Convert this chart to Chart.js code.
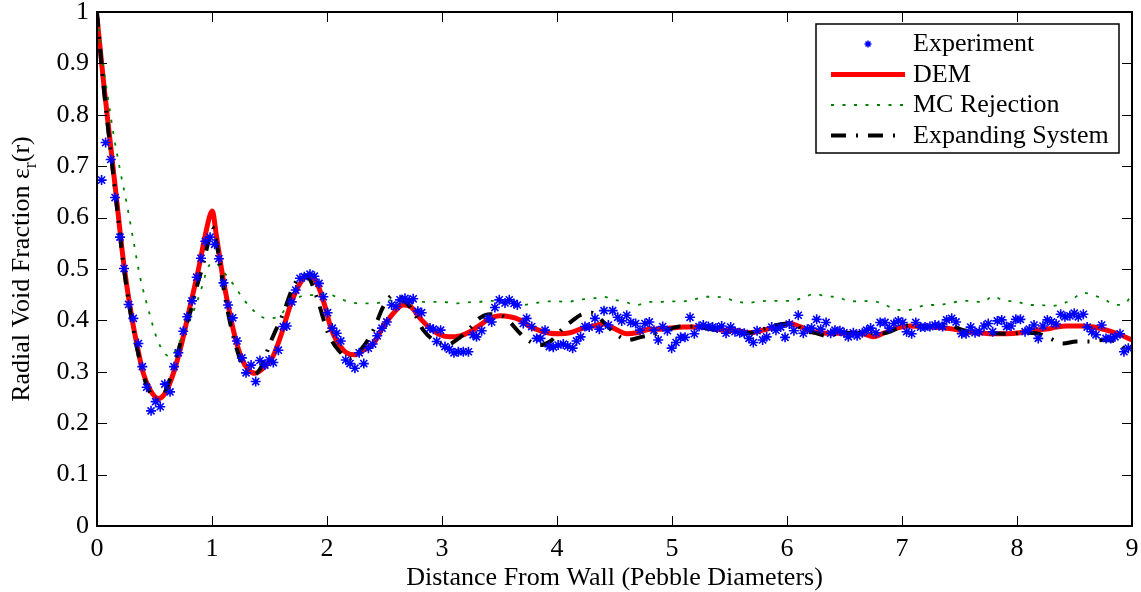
<!DOCTYPE html>
<html>
<head>
<meta charset="utf-8">
<title>Radial Void Fraction</title>
<script src="https://cdn.jsdelivr.net/npm/chart.js@4.4.1/dist/chart.umd.min.js"></script>
<style>
  html, body { margin: 0; padding: 0; background: #fff; }
  #wrap { width: 1141px; height: 592px; }
</style>
</head>
<body>
<div id="wrap"><canvas id="voidChart" width="1141" height="592"></canvas></div>
<script>
// values (x in pebble diameters, y = void fraction)
const expX = [0.04, 0.075, 0.12, 0.157, 0.2, 0.235, 0.275, 0.316, 0.36, 0.394, 0.432, 0.47, 0.51, 0.55, 0.59, 0.635, 0.67, 0.707, 0.75, 0.785,
  0.826, 0.867, 0.904, 0.942, 0.983, 1.023, 1.06, 1.1, 1.14, 1.18, 1.217, 1.26, 1.296, 1.34, 1.38, 1.417, 1.46, 1.496, 1.533, 1.577,
  1.62, 1.65, 1.693, 1.728, 1.765, 1.803, 1.852, 1.89, 1.93, 1.968, 2.005, 2.046, 2.084, 2.12, 2.163, 2.2, 2.243, 2.28, 2.32, 2.36,
  2.397, 2.437, 2.478, 2.52, 2.562, 2.6, 2.635, 2.678, 2.716, 2.75, 2.79, 2.823, 2.896, 2.925, 2.954, 2.988, 3.026, 3.064, 3.104, 3.142,
  3.185, 3.23, 3.27, 3.3, 3.345, 3.403, 3.432, 3.46, 3.498, 3.548, 3.585, 3.626, 3.655, 3.707, 3.736, 3.78, 3.823, 3.857, 3.896, 3.933,
  3.968, 4.01, 4.055, 4.093, 4.136, 4.17, 4.205, 4.243, 4.28, 4.33, 4.368, 4.409, 4.447, 4.484, 4.528, 4.563, 4.606, 4.641, 4.684, 4.722,
  4.765, 4.803, 4.843, 4.88, 4.919, 4.96, 4.997, 5.035, 5.075, 5.113, 5.157, 5.194, 5.235, 5.272, 5.316, 5.353, 5.393, 5.432, 5.47, 5.51,
  5.548, 5.59, 5.628, 5.67, 5.707, 5.74, 5.788, 5.823, 5.867, 5.904, 5.945, 5.983, 6.02, 6.06, 6.098, 6.142, 6.177, 6.214, 6.258, 6.293,
  6.34, 6.38, 6.417, 6.46, 6.496, 6.533, 6.577, 6.61, 6.655, 6.693, 6.727, 6.774, 6.81, 6.852, 6.89, 6.93, 6.968, 7.006, 7.04, 7.084,
  7.12, 7.162, 7.2, 7.243, 7.287, 7.32, 7.353, 7.388, 7.432, 7.47, 7.52, 7.557, 7.597, 7.635, 7.672, 7.713, 7.75, 7.788, 7.829, 7.867,
  7.91, 7.948, 7.99, 8.03, 8.07, 8.107, 8.148, 8.185, 8.226, 8.264, 8.3, 8.34, 8.38, 8.417, 8.46, 8.498, 8.533, 8.577, 8.61, 8.65,
  8.687, 8.736, 8.774, 8.815, 8.852, 8.896, 8.93, 8.968];
const expY = [0.673, 0.746, 0.713, 0.639, 0.562, 0.501, 0.431, 0.404, 0.355, 0.31, 0.27, 0.224, 0.242, 0.232, 0.276, 0.261, 0.31, 0.337, 0.379, 0.407,
  0.438, 0.484, 0.521, 0.554, 0.562, 0.548, 0.52, 0.473, 0.43, 0.405, 0.36, 0.327, 0.298, 0.313, 0.281, 0.322, 0.313, 0.323, 0.318, 0.342,
  0.388, 0.389, 0.436, 0.459, 0.482, 0.485, 0.49, 0.486, 0.472, 0.446, 0.415, 0.385, 0.375, 0.36, 0.323, 0.316, 0.307, 0.337, 0.316, 0.346,
  0.354, 0.37, 0.385, 0.397, 0.43, 0.427, 0.44, 0.443, 0.438, 0.442, 0.418, 0.415, 0.385, 0.383, 0.359, 0.381, 0.349, 0.344, 0.337, 0.339,
  0.339, 0.339, 0.372, 0.368, 0.38, 0.404, 0.397, 0.425, 0.44, 0.434, 0.44, 0.433, 0.43, 0.394, 0.404, 0.388, 0.365, 0.365, 0.381, 0.349,
  0.348, 0.352, 0.354, 0.35, 0.346, 0.36, 0.368, 0.388, 0.387, 0.404, 0.383, 0.419, 0.391, 0.419, 0.406, 0.399, 0.41, 0.396, 0.394, 0.381,
  0.394, 0.397, 0.381, 0.362, 0.388, 0.38, 0.346, 0.357, 0.367, 0.367, 0.406, 0.374, 0.388, 0.391, 0.388, 0.387, 0.385, 0.389, 0.375, 0.387,
  0.378, 0.376, 0.375, 0.365, 0.357, 0.38, 0.362, 0.368, 0.387, 0.381, 0.387, 0.367, 0.393, 0.38, 0.41, 0.375, 0.383, 0.385, 0.402, 0.383,
  0.396, 0.375, 0.381, 0.38, 0.376, 0.368, 0.376, 0.37, 0.376, 0.381, 0.385, 0.376, 0.396, 0.396, 0.385, 0.394, 0.399, 0.396, 0.378, 0.374,
  0.396, 0.387, 0.387, 0.388, 0.391, 0.39, 0.388, 0.401, 0.404, 0.397, 0.374, 0.374, 0.387, 0.376, 0.378, 0.389, 0.394, 0.378, 0.399, 0.401,
  0.388, 0.389, 0.402, 0.402, 0.378, 0.383, 0.391, 0.365, 0.389, 0.401, 0.397, 0.393, 0.412, 0.407, 0.409, 0.414, 0.407, 0.412, 0.387, 0.378,
  0.372, 0.391, 0.365, 0.365, 0.368, 0.374, 0.339, 0.346];

const demX = [0, 0.055, 0.113, 0.171, 0.229, 0.287, 0.345, 0.403, 0.461, 0.533, 0.591, 0.664, 0.736, 0.809, 0.881, 0.939, 0.983, 1.003, 1.035, 1.084,
  1.142, 1.2, 1.258, 1.316, 1.374, 1.46, 1.53, 1.606, 1.678, 1.75, 1.823, 1.866, 1.925, 1.983, 2.04, 2.1, 2.17, 2.243, 2.316, 2.403,
  2.49, 2.577, 2.664, 2.72, 2.81, 2.896, 2.983, 3.07, 3.157, 3.243, 3.33, 3.417, 3.504, 3.59, 3.678, 3.765, 3.852, 3.939, 4.026, 4.113,
  4.229, 4.316, 4.403, 4.49, 4.606, 4.693, 4.809, 4.896, 4.983, 5.099, 5.215, 5.33, 5.446, 5.562, 5.678, 5.794, 5.91, 6.026, 6.113, 6.229,
  6.345, 6.46, 6.577, 6.664, 6.75, 6.837, 6.953, 7.07, 7.185, 7.33, 7.446, 7.562, 7.678, 7.794, 7.91, 8.026, 8.142, 8.258, 8.345, 8.43,
  8.55, 8.667, 8.78, 8.896, 9];
const demY = [0.99, 0.868, 0.751, 0.634, 0.517, 0.427, 0.355, 0.297, 0.265, 0.248, 0.258, 0.297, 0.355, 0.427, 0.498, 0.563, 0.605, 0.613, 0.57, 0.498,
  0.427, 0.368, 0.326, 0.304, 0.297, 0.31, 0.33, 0.375, 0.427, 0.466, 0.485, 0.485, 0.466, 0.427, 0.381, 0.355, 0.337, 0.333, 0.342, 0.355,
  0.388, 0.414, 0.43, 0.428, 0.404, 0.385, 0.372, 0.368, 0.37, 0.378, 0.391, 0.404, 0.409, 0.407, 0.401, 0.388, 0.38, 0.375, 0.374, 0.376,
  0.385, 0.389, 0.393, 0.385, 0.374, 0.376, 0.383, 0.383, 0.385, 0.387, 0.387, 0.385, 0.381, 0.38, 0.376, 0.381, 0.388, 0.394, 0.388, 0.378,
  0.375, 0.375, 0.375, 0.374, 0.368, 0.375, 0.385, 0.389, 0.388, 0.386, 0.383, 0.378, 0.376, 0.374, 0.374, 0.376, 0.381, 0.383, 0.387, 0.389,
  0.389, 0.387, 0.381, 0.372, 0.362];

const mcX = [0, 0.055, 0.098, 0.142, 0.2, 0.258, 0.316, 0.374, 0.446, 0.519, 0.58, 0.635, 0.68, 0.722, 0.809, 0.896, 0.96, 0.997, 1.07, 1.142,
  1.2, 1.258, 1.316, 1.388, 1.475, 1.577, 1.664, 1.722, 1.809, 1.91, 1.997, 2.1, 2.2, 2.287, 2.4, 2.49, 2.59, 2.69, 2.81, 2.925,
  3.01, 3.113, 3.215, 3.315, 3.417, 3.5, 3.6, 3.7, 3.8, 3.9, 4.0, 4.09, 4.19, 4.316, 4.403, 4.5, 4.59, 4.693, 4.8, 4.9,
  4.98, 5.08, 5.186, 5.287, 5.39, 5.47, 5.56, 5.66, 5.75, 5.85, 5.95, 6.05, 6.14, 6.243, 6.34, 6.44, 6.54, 6.63, 6.73, 6.837,
  6.925, 7.026, 7.11, 7.21, 7.31, 7.4, 7.5, 7.6, 7.7, 7.79, 7.89, 7.99, 8.1, 8.2, 8.3, 8.4, 8.475, 8.577, 8.66, 8.77,
  8.85, 8.94, 9];
const mcY = [0.99, 0.894, 0.829, 0.764, 0.693, 0.628, 0.556, 0.485, 0.422, 0.366, 0.338, 0.33, 0.34, 0.36, 0.401, 0.453, 0.5, 0.512, 0.505, 0.482,
  0.466, 0.446, 0.43, 0.414, 0.404, 0.407, 0.43, 0.44, 0.449, 0.449, 0.453, 0.443, 0.436, 0.433, 0.433, 0.436, 0.44, 0.433, 0.436, 0.436,
  0.436, 0.433, 0.435, 0.436, 0.438, 0.437, 0.433, 0.43, 0.433, 0.437, 0.437, 0.436, 0.44, 0.443, 0.446, 0.44, 0.436, 0.43, 0.436, 0.436,
  0.437, 0.437, 0.44, 0.446, 0.446, 0.443, 0.437, 0.434, 0.437, 0.438, 0.438, 0.438, 0.445, 0.451, 0.447, 0.445, 0.438, 0.437, 0.438, 0.432,
  0.423, 0.419, 0.423, 0.43, 0.43, 0.433, 0.437, 0.438, 0.435, 0.447, 0.438, 0.437, 0.43, 0.43, 0.428, 0.433, 0.44, 0.454, 0.449, 0.44,
  0.43, 0.433, 0.451];

const expandX = [0, 0.055, 0.113, 0.171, 0.229, 0.287, 0.345, 0.403, 0.461, 0.519, 0.58, 0.64, 0.693, 0.75, 0.809, 0.867, 0.925, 0.97, 1.003, 1.03,
  1.055, 1.113, 1.186, 1.272, 1.36, 1.43, 1.504, 1.62, 1.707, 1.794, 1.85, 1.91, 2.01, 2.1, 2.2, 2.316, 2.403, 2.49, 2.577, 2.664,
  2.75, 2.838, 2.925, 3.04, 3.127, 3.243, 3.33, 3.417, 3.533, 3.59, 3.678, 3.765, 3.852, 3.939, 4.055, 4.142, 4.2, 4.3, 4.403, 4.519,
  4.62, 4.736, 4.88, 4.953, 5.07, 5.186, 5.33, 5.475, 5.62, 5.736, 5.794, 5.91, 6.055, 6.142, 6.258, 6.345, 6.46, 6.693, 6.837, 7.0,
  7.1, 7.215, 7.33, 7.417, 7.533, 7.65, 7.765, 7.94, 8.055, 8.17, 8.287, 8.4, 8.516, 8.63, 8.746, 8.86, 8.95, 9];
const expandY = [1.0, 0.86, 0.74, 0.625, 0.51, 0.42, 0.35, 0.293, 0.26, 0.245, 0.255, 0.29, 0.33, 0.375, 0.414, 0.465, 0.511, 0.555, 0.582, 0.56,
  0.53, 0.446, 0.368, 0.31, 0.294, 0.31, 0.355, 0.414, 0.466, 0.488, 0.48, 0.446, 0.375, 0.342, 0.326, 0.349, 0.381, 0.427, 0.449, 0.44,
  0.417, 0.381, 0.362, 0.352, 0.362, 0.385, 0.405, 0.412, 0.408, 0.397, 0.375, 0.359, 0.352, 0.359, 0.385, 0.401, 0.41, 0.415, 0.397, 0.372,
  0.362, 0.368, 0.375, 0.381, 0.388, 0.388, 0.383, 0.378, 0.375, 0.378, 0.383, 0.391, 0.394, 0.381, 0.375, 0.37, 0.375, 0.376, 0.375, 0.388,
  0.391, 0.388, 0.392, 0.391, 0.381, 0.378, 0.375, 0.374, 0.376, 0.375, 0.365, 0.355, 0.359, 0.359, 0.362, 0.359, 0.342, 0.335];

const xTicks = [0, 1, 2, 3, 4, 5, 6, 7, 8, 9];
const yTicks = [0, 0.1, 0.2, 0.3, 0.4, 0.5, 0.6, 0.7, 0.8, 0.9, 1];
const seriesNames = ['Experiment', 'DEM', 'MC Rejection', 'Expanding System'];

const FONT = "'Liberation Serif', 'Times New Roman', serif";

function toPoints(xs, ys) {
  return xs.map((x, i) => ({ x: x, y: ys[i] }));
}

// MATLAB style box with inward ticks on all four sides
const frame = {
  id: 'frame',
  afterDatasetsDraw(chart) {
    const { ctx, chartArea: a, scales: { x, y } } = chart;
    ctx.save();
    ctx.strokeStyle = '#000';
    ctx.lineWidth = 1;
    ctx.beginPath();
    xTicks.forEach(v => {
      const px = Math.round(x.getPixelForValue(v)) + 0.5;
      ctx.moveTo(px, a.bottom); ctx.lineTo(px, a.bottom - 10);
      ctx.moveTo(px, a.top); ctx.lineTo(px, a.top + 10);
    });
    yTicks.forEach(v => {
      const py = Math.round(y.getPixelForValue(v)) + 0.5;
      ctx.moveTo(a.left, py); ctx.lineTo(a.left + 10, py);
      ctx.moveTo(a.right, py); ctx.lineTo(a.right - 10, py);
    });
    ctx.stroke();
    ctx.lineWidth = 2;
    ctx.strokeRect(a.left, a.top, a.right - a.left, a.bottom - a.top);
    ctx.restore();
  }
};

// y title with the subscript r
const yTitle = {
  id: 'yTitle',
  afterDraw(chart) {
    const { ctx, chartArea: a } = chart;
    const parts = [
      ['Radial Void Fraction \u03B5', '26px ' + FONT, 0],
      ['r', '18px ' + FONT, 7],
      ['(r)', '26px ' + FONT, 0]
    ];
    ctx.save();
    let total = 0;
    parts.forEach(p => { ctx.font = p[1]; total += ctx.measureText(p[0]).width; });
    ctx.translate(29, (a.top + a.bottom) / 2);
    ctx.rotate(-Math.PI / 2);
    ctx.fillStyle = '#000';
    ctx.textBaseline = 'alphabetic';
    let cx = -total / 2;
    parts.forEach(p => {
      ctx.font = p[1];
      ctx.fillText(p[0], cx, p[2]);
      cx += ctx.measureText(p[0]).width;
    });
    ctx.restore();
  }
};

// boxed legend in the upper right corner
const boxLegend = {
  id: 'boxLegend',
  afterDraw(chart) {
    const { ctx, chartArea: a } = chart;
    const w = 303, h = 129;
    const left = a.right - 13 - w, top = a.top + 12;
    ctx.save();
    ctx.fillStyle = '#fff';
    ctx.fillRect(left, top, w, h);
    ctx.strokeStyle = '#000';
    ctx.lineWidth = 1.5;
    ctx.strokeRect(left, top, w, h);

    chart.data.datasets.forEach((ds, i) => {
      const rowY = top + 20 + i * 30.5;
      const x0 = left + 15, x1 = left + 89;
      if (ds.showLine === false) {
        ctx.strokeStyle = ds.pointBorderColor;
        ctx.fillStyle = ds.pointBackgroundColor;
        Chart.helpers.drawPoint(ctx, { pointStyle: 'star', radius: 3.5, borderWidth: 1.2 }, (x0 + x1) / 2, rowY);
      } else {
        ctx.save();
        ctx.strokeStyle = ds.borderColor;
        ctx.lineWidth = ds.borderWidth;
        ctx.setLineDash(ds.borderDash || []);
        ctx.beginPath();
        ctx.moveTo(x0, rowY);
        ctx.lineTo(x1, rowY);
        ctx.stroke();
        ctx.restore();
      }
      ctx.fillStyle = '#000';
      ctx.font = '26px ' + FONT;
      ctx.textBaseline = 'middle';
      ctx.fillText(ds.label, left + 97, rowY + 0.5);
    });
    ctx.restore();
  }
};

new Chart(document.getElementById('voidChart'), {
  type: 'scatter',
  data: {
    datasets: [
      {
        label: seriesNames[0],
        data: toPoints(expX, expY),
        showLine: false,
        pointStyle: 'star',
        pointRadius: 5,
        pointBorderWidth: 1.6,
        pointBorderColor: '#0000ff',
        pointBackgroundColor: '#0000ff',
        order: 0
      },
      {
        label: seriesNames[1],
        data: toPoints(demX, demY),
        showLine: true,
        borderColor: '#ff0000',
        borderWidth: 5,
        pointRadius: 0,
        cubicInterpolationMode: 'monotone',
        order: 3
      },
      {
        label: seriesNames[2],
        data: toPoints(mcX, mcY),
        showLine: true,
        borderColor: '#008000',
        borderWidth: 1.8,
        borderDash: [3, 8.5],
        pointRadius: 0,
        cubicInterpolationMode: 'monotone',
        order: 2
      },
      {
        label: seriesNames[3],
        data: toPoints(expandX, expandY),
        showLine: true,
        borderColor: '#000000',
        borderWidth: 4,
        borderDash: [15, 10, 2, 10],
        pointRadius: 0,
        cubicInterpolationMode: 'monotone',
        order: 1
      }
    ]
  },
  options: {
    responsive: false,
    animation: false,
    events: [],
    layout: { padding: { top: 12, right: 9, bottom: 0, left: 0 } },
    plugins: {
      legend: { display: false },
      tooltip: { enabled: false }
    },
    scales: {
      x: {
        type: 'linear',
        min: 0,
        max: 9,
        grid: { display: false, drawTicks: false },
        border: { display: false },
        ticks: {
          stepSize: 1,
          padding: 8,
          color: '#000',
          font: { family: FONT, size: 26 }
        },
        title: {
          display: true,
          text: 'Distance From Wall (Pebble Diameters)',
          color: '#000',
          font: { family: FONT, size: 26, lineHeight: 1 },
          padding: { top: 0, bottom: 1 }
        },
        afterFit(scale) {
          scale.height = 66;
          scale.paddingLeft = 0;
          scale.paddingRight = 0;
        }
      },
      y: {
        type: 'linear',
        min: 0,
        max: 1,
        grid: { display: false, drawTicks: false },
        border: { display: false },
        ticks: {
          stepSize: 0.1,
          padding: 8,
          color: '#000',
          font: { family: FONT, size: 26 },
          callback: v => String(Number(v.toFixed(1)))
        },
        afterFit(scale) {
          scale.width = 97;
          scale.paddingTop = 0;
          scale.paddingBottom = 0;
        }
      }
    }
  },
  plugins: [frame, yTitle, boxLegend]
});
</script>
</body>
</html>
